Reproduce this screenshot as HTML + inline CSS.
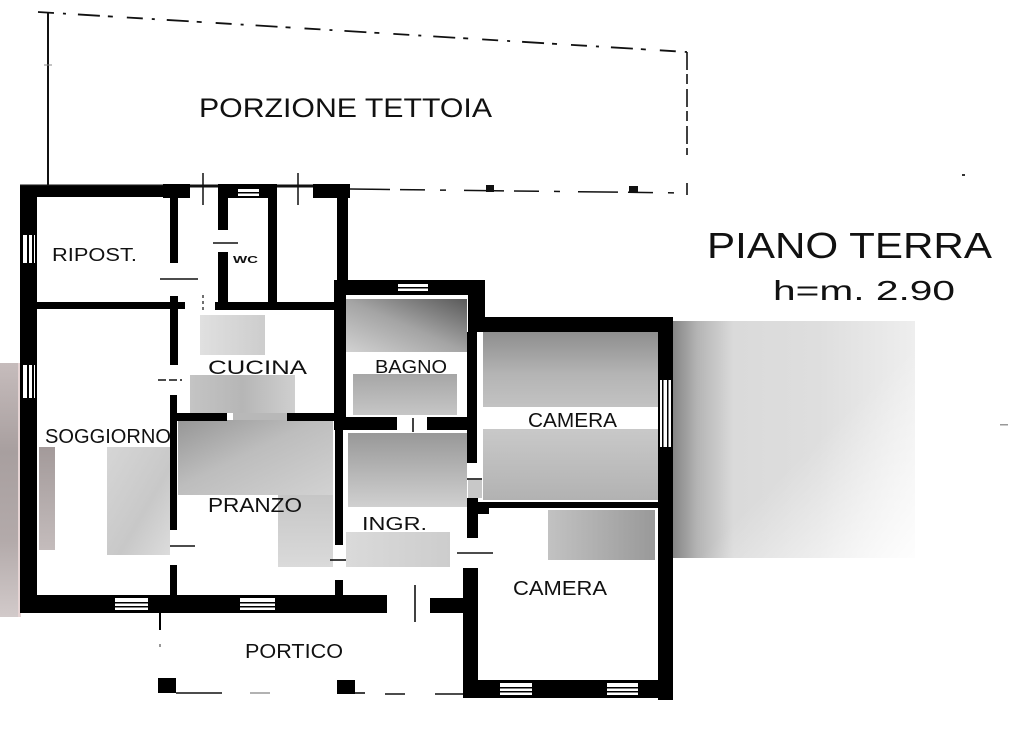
<!DOCTYPE html>
<html>
<head>
<meta charset="utf-8">
<style>
html,body{margin:0;padding:0;background:#fff;}
body{width:1024px;height:729px;overflow:hidden;}
svg{display:block;}
text{font-family:"Liberation Sans",sans-serif;fill:#111;}
</style>
</head>
<body>
<svg width="1024" height="729" viewBox="0 0 1024 729" xmlns="http://www.w3.org/2000/svg">
<defs>
  <linearGradient id="gLeft" x1="0" y1="0" x2="0" y2="1">
    <stop offset="0" stop-color="#c6bcbc"/>
    <stop offset="0.35" stop-color="#a89f9f"/>
    <stop offset="0.7" stop-color="#b3aaaa"/>
    <stop offset="1" stop-color="#d2caca"/>
  </linearGradient>
  <linearGradient id="gSogDark" x1="0" y1="0" x2="0" y2="1">
    <stop offset="0" stop-color="#a39a9a"/>
    <stop offset="1" stop-color="#c4bcbc"/>
  </linearGradient>
  <linearGradient id="gSogLight" x1="0" y1="0" x2="1" y2="1">
    <stop offset="0" stop-color="#d6d6d6"/>
    <stop offset="0.6" stop-color="#c8c8c8"/>
    <stop offset="1" stop-color="#dcdcdc"/>
  </linearGradient>
  <linearGradient id="gCuc" x1="0" y1="0" x2="1" y2="0">
    <stop offset="0" stop-color="#e0e0e0"/>
    <stop offset="1" stop-color="#cdcdcd"/>
  </linearGradient>
  <linearGradient id="gKitTop" x1="0" y1="0" x2="1" y2="0">
    <stop offset="0" stop-color="#c4c4c4"/>
    <stop offset="0.5" stop-color="#b6b6b6"/>
    <stop offset="1" stop-color="#cfcfcf"/>
  </linearGradient>
  <linearGradient id="gKitMid" x1="0" y1="0" x2="1" y2="1">
    <stop offset="0" stop-color="#969696"/>
    <stop offset="0.45" stop-color="#bdbdbd"/>
    <stop offset="1" stop-color="#d2d2d2"/>
  </linearGradient>
  <linearGradient id="gKitLow" x1="0" y1="0" x2="0" y2="1">
    <stop offset="0" stop-color="#c6c6c6"/>
    <stop offset="1" stop-color="#dadada"/>
  </linearGradient>
  <linearGradient id="gBagTop" x1="0" y1="1" x2="1" y2="0">
    <stop offset="0" stop-color="#d2d2d2"/>
    <stop offset="0.5" stop-color="#a4a4a4"/>
    <stop offset="1" stop-color="#5a5a5a"/>
  </linearGradient>
  <linearGradient id="gBagLow" x1="0" y1="0" x2="0" y2="1">
    <stop offset="0" stop-color="#a6a6a6"/>
    <stop offset="1" stop-color="#c6c6c6"/>
  </linearGradient>
  <linearGradient id="gIngr" x1="0" y1="0" x2="0" y2="1">
    <stop offset="0" stop-color="#989898"/>
    <stop offset="1" stop-color="#d0d0d0"/>
  </linearGradient>
  <linearGradient id="gIngrLow" x1="0" y1="0" x2="1" y2="0">
    <stop offset="0" stop-color="#dadada"/>
    <stop offset="1" stop-color="#cdcdcd"/>
  </linearGradient>
  <linearGradient id="gCam" x1="0" y1="0" x2="0" y2="1">
    <stop offset="0" stop-color="#8e8e8e"/>
    <stop offset="0.25" stop-color="#b4b4b4"/>
    <stop offset="0.55" stop-color="#cacaca"/>
    <stop offset="1" stop-color="#b2b2b2"/>
  </linearGradient>
  <linearGradient id="gCam2" x1="0" y1="0" x2="1" y2="0">
    <stop offset="0" stop-color="#c2c2c2"/>
    <stop offset="1" stop-color="#999999"/>
  </linearGradient>
  <linearGradient id="gRight" x1="0" y1="0" x2="1" y2="0">
    <stop offset="0" stop-color="#858585"/>
    <stop offset="0.1" stop-color="#b4b4b4"/>
    <stop offset="0.25" stop-color="#dadada"/>
    <stop offset="0.6" stop-color="#dedede"/>
    <stop offset="1" stop-color="#eeeeee"/>
  </linearGradient>
  <linearGradient id="gRightFade" x1="0" y1="0" x2="1" y2="1">
    <stop offset="0.55" stop-color="#ffffff" stop-opacity="0"/>
    <stop offset="1" stop-color="#ffffff" stop-opacity="0.9"/>
  </linearGradient>
</defs>

<rect width="1024" height="729" fill="#fff"/>

<!-- ========== TETTOIA outline ========== -->
<g stroke="#111" fill="none">
  <line x1="48" y1="12" x2="48" y2="188" stroke-width="2"/>
  <line x1="38" y1="12" x2="687" y2="52" stroke-width="1.8" stroke-dasharray="16 9 3 12 22 8 5 14"/>
  <line x1="687" y1="52" x2="687" y2="155" stroke-width="1.6" stroke-dasharray="18 4 10 5"/>
  <line x1="687" y1="183" x2="687" y2="195" stroke-width="1.6"/>
  <line x1="20" y1="186" x2="350" y2="186" stroke-width="3"/>
  <line x1="350" y1="189" x2="687" y2="193" stroke-width="1.5" stroke-dasharray="40 10 25 15 6 18"/>
  <line x1="203" y1="173" x2="203" y2="205" stroke-width="1.5"/>
  <line x1="298" y1="173" x2="298" y2="205" stroke-width="1.5"/>
  <line x1="203" y1="295" x2="203" y2="310" stroke-width="1.2" stroke-dasharray="3 3"/>
  <line x1="44" y1="65" x2="52" y2="65" stroke-width="1" stroke="#888"/>
</g>
<rect x="486" y="185" width="8" height="7" fill="#111"/>
<rect x="629" y="186" width="9" height="7" fill="#111"/>
<rect x="962" y="174" width="3" height="2" fill="#333"/>
<rect x="1000" y="424" width="8" height="1.5" fill="#999"/>

<!-- ========== blurred patches ========== -->
<rect x="0" y="363" width="18" height="254" fill="url(#gLeft)"/>
<rect x="18" y="363" width="3" height="254" fill="#e6d4d4"/>
<rect x="39" y="447" width="16" height="103" fill="url(#gSogDark)"/>
<rect x="107" y="447" width="63" height="108" fill="url(#gSogLight)"/>
<rect x="200" y="315" width="65" height="40" fill="url(#gCuc)"/>
<rect x="190" y="375" width="105" height="38" fill="url(#gKitTop)"/>
<rect x="233" y="413" width="55" height="8" fill="#b8b8b8"/>
<rect x="178" y="420" width="155" height="75" fill="url(#gKitMid)"/>
<rect x="278" y="495" width="55" height="72" fill="url(#gKitLow)"/>
<rect x="345" y="299" width="122" height="53" fill="url(#gBagTop)"/>
<rect x="353" y="374" width="104" height="41" fill="url(#gBagLow)"/>
<rect x="348" y="433" width="119" height="74" fill="url(#gIngr)"/>
<rect x="346" y="532" width="104" height="35" fill="url(#gIngrLow)"/>
<rect x="468" y="480" width="14" height="18" fill="#c8c8c8"/>
<rect x="483" y="332" width="175" height="168" fill="url(#gCam)"/>
<rect x="483" y="407" width="175" height="22" fill="#fff"/>
<rect x="548" y="510" width="107" height="50" fill="url(#gCam2)"/>
<rect x="673" y="321" width="242" height="237" fill="url(#gRight)"/>
<rect x="673" y="321" width="242" height="237" fill="url(#gRightFade)"/>

<!-- ========== WALLS ========== -->
<g fill="#000">
  <rect x="20" y="186" width="17" height="427"/>
  <rect x="20" y="186" width="170" height="11"/>
  <rect x="163" y="184" width="27" height="14"/>
  <rect x="218" y="184" width="59" height="14"/>
  <rect x="313" y="184" width="37" height="14"/>
  <rect x="337" y="184" width="11" height="110"/>
  <rect x="170" y="197" width="8" height="66"/>
  <rect x="170" y="296" width="8" height="69"/>
  <rect x="170" y="395" width="7" height="135"/>
  <rect x="170" y="565" width="7" height="30"/>
  <rect x="37" y="302" width="148" height="7"/>
  <rect x="218" y="197" width="10" height="33"/>
  <rect x="218" y="252" width="10" height="56"/>
  <rect x="268" y="197" width="9" height="111"/>
  <rect x="215" y="302" width="130" height="8"/>
  <rect x="175" y="413" width="52" height="8"/>
  <rect x="287" y="413" width="50" height="8"/>
  <rect x="334" y="290" width="12" height="140"/>
  <rect x="334" y="280" width="151" height="15"/>
  <rect x="468" y="280" width="17" height="52"/>
  <rect x="468" y="317" width="205" height="15"/>
  <rect x="467" y="332" width="10" height="131"/>
  <rect x="335" y="417" width="62" height="13"/>
  <rect x="427" y="417" width="50" height="13"/>
  <rect x="335" y="428" width="8" height="117"/>
  <rect x="335" y="580" width="8" height="15"/>
  <rect x="658" y="317" width="15" height="383"/>
  <rect x="468" y="502" width="190" height="6"/>
  <rect x="467" y="498" width="11" height="40"/>
  <rect x="477" y="504" width="12" height="10"/>
  <rect x="463" y="568" width="15" height="130"/>
  <rect x="463" y="680" width="210" height="18"/>
  <rect x="20" y="595" width="367" height="18"/>
  <rect x="430" y="598" width="47" height="15"/>
  <rect x="158" y="678" width="18" height="15"/>
  <rect x="337" y="680" width="18" height="14"/>
  <rect x="159" y="613" width="2" height="17"/>
</g>

<!-- ========== WINDOWS ========== -->
<g>
  <rect x="23" y="235" width="12" height="28" fill="#fff"/>
  <rect x="27" y="235" width="2" height="28" fill="#000"/>
  <rect x="32" y="235" width="2" height="28" fill="#000"/>
  <rect x="23" y="365" width="12" height="33" fill="#fff"/>
  <rect x="27" y="365" width="2" height="33" fill="#000"/>
  <rect x="32" y="365" width="2" height="33" fill="#000"/>
  <rect x="238" y="189" width="21" height="7" fill="#fff"/>
  <rect x="238" y="192" width="21" height="1.5" fill="#000"/>
  <rect x="398" y="284" width="30" height="7" fill="#fff"/>
  <rect x="398" y="287" width="30" height="1.5" fill="#000"/>
  <rect x="660" y="380" width="11" height="67" fill="#fff"/>
  <rect x="662" y="380" width="1.5" height="67" fill="#000"/>
  <rect x="667" y="380" width="1.5" height="67" fill="#000"/>
  <rect x="115" y="598" width="33" height="12" fill="#fff"/>
  <rect x="115" y="602" width="33" height="1.5" fill="#000"/>
  <rect x="115" y="606" width="33" height="1.5" fill="#000"/>
  <rect x="240" y="598" width="35" height="12" fill="#fff"/>
  <rect x="240" y="602" width="35" height="1.5" fill="#000"/>
  <rect x="240" y="606" width="35" height="1.5" fill="#000"/>
  <rect x="500" y="683" width="32" height="12" fill="#fff"/>
  <rect x="500" y="687" width="32" height="1.5" fill="#000"/>
  <rect x="500" y="691" width="32" height="1.5" fill="#000"/>
  <rect x="607" y="683" width="31" height="12" fill="#fff"/>
  <rect x="607" y="687" width="31" height="1.5" fill="#000"/>
  <rect x="607" y="691" width="31" height="1.5" fill="#000"/>
</g>

<!-- ========== DOOR LINES ========== -->
<g stroke="#111" stroke-width="1.6" fill="none">
  <line x1="160" y1="279" x2="198" y2="279"/>
  <line x1="213" y1="243" x2="238" y2="243"/>
  <line x1="158" y1="380" x2="182" y2="380" stroke-dasharray="8 3"/>
  <line x1="170" y1="546" x2="195" y2="546"/>
  <line x1="330" y1="560" x2="346" y2="560"/>
  <line x1="457" y1="553" x2="493" y2="553"/>
  <line x1="467" y1="479" x2="482" y2="479"/>
  <line x1="413" y1="418" x2="413" y2="432"/>
  <line x1="415" y1="585" x2="415" y2="622"/>
  <line x1="176" y1="693" x2="222" y2="693"/>
  <line x1="250" y1="693" x2="270" y2="693" stroke="#999"/>
  <line x1="355" y1="693" x2="365" y2="693"/>
  <line x1="385" y1="694" x2="405" y2="694"/>
  <line x1="435" y1="694" x2="463" y2="694"/>
</g>
<rect x="159" y="644" width="2" height="3" fill="#999"/>

<!-- ========== LABELS ========== -->
<text x="199" y="117" font-size="27" textLength="293" lengthAdjust="spacingAndGlyphs">PORZIONE TETTOIA</text>
<text x="707" y="258" font-size="36" textLength="285" lengthAdjust="spacingAndGlyphs">PIANO TERRA</text>
<text x="773" y="300" font-size="28" textLength="182" lengthAdjust="spacingAndGlyphs">h=m. 2.90</text>
<text x="52" y="261" font-size="18" textLength="85" lengthAdjust="spacingAndGlyphs">RIPOST.</text>
<text x="233" y="263" font-size="10" textLength="25" lengthAdjust="spacingAndGlyphs" style="font-weight:bold">WC</text>
<text x="208" y="374" font-size="19" textLength="99" lengthAdjust="spacingAndGlyphs">CUCINA</text>
<text x="375" y="373" font-size="18" textLength="72" lengthAdjust="spacingAndGlyphs">BAGNO</text>
<text x="45" y="443" font-size="20" textLength="126" lengthAdjust="spacingAndGlyphs">SOGGIORNO</text>
<text x="208" y="512" font-size="20" textLength="94" lengthAdjust="spacingAndGlyphs">PRANZO</text>
<text x="362" y="530" font-size="18" textLength="65" lengthAdjust="spacingAndGlyphs">INGR.</text>
<text x="528" y="427" font-size="20" textLength="89" lengthAdjust="spacingAndGlyphs">CAMERA</text>
<text x="513" y="595" font-size="20" textLength="94" lengthAdjust="spacingAndGlyphs">CAMERA</text>
<text x="245" y="658" font-size="20" textLength="98" lengthAdjust="spacingAndGlyphs">PORTICO</text>
</svg>
</body>
</html>
